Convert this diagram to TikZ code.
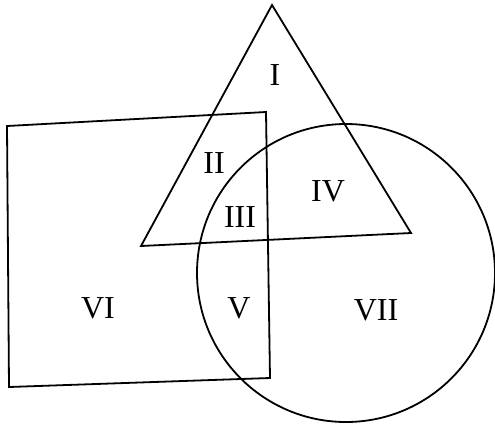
\documentclass[tikz,border=0pt]{standalone}
\usepackage{fontspec}
\setmainfont{Liberation Serif}
\begin{document}
\begin{tikzpicture}[x=1pt,y=-1pt,line width=1.8pt,
  region/.style={font=\fontsize{32}{34}\selectfont}]
\useasboundingbox (0,0) rectangle (495,429);
\draw (272,5) -- (141,246) -- (411,233) -- cycle;
\draw (7,126) -- (266,112) -- (270,378) -- (9,387) -- cycle;
\draw (346,273) circle (149pt);
\node[region] (r1) at (275,75) {I};
\node[region] (r2) at (214,163) {II};
\node[region] (r3) at (240,217) {III};
\node[region] (r4) at (328,191) {IV};
\node[region] (r5) at (239,308) {V};
\node[region] (r6) at (98,308) {VI};
\node[region] (r7) at (376,310) {VII};
\end{tikzpicture}
\end{document}
